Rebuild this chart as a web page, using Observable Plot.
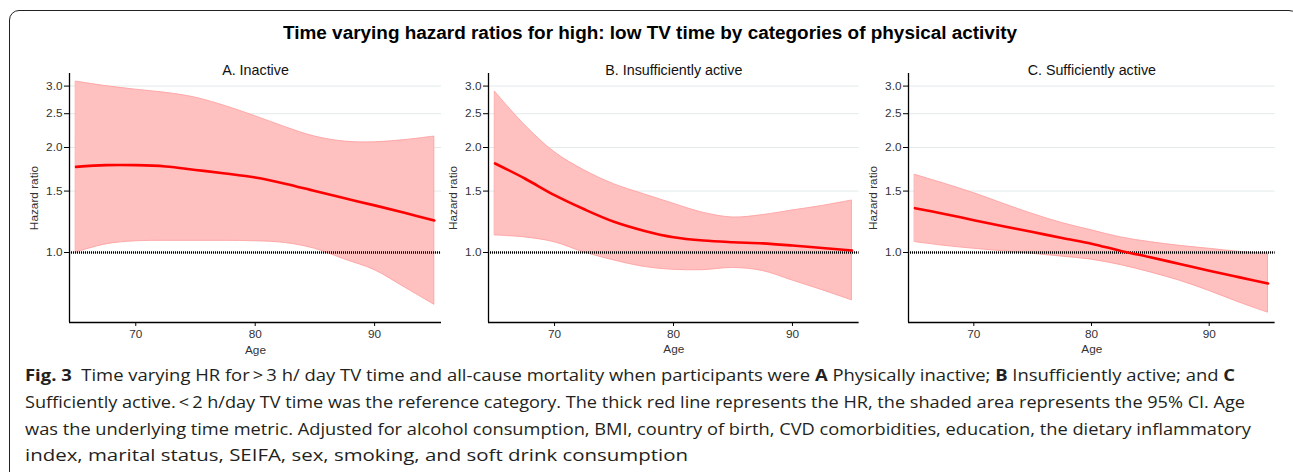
<!DOCTYPE html>
<html>
<head>
<meta charset="utf-8">
<script src="https://cdn.jsdelivr.net/npm/d3@7"></script>
<script src="https://cdn.jsdelivr.net/npm/@observablehq/plot@0.6"></script>
<style>
  html, body { margin: 0; padding: 0; background: #fff; }
  body { width: 1293px; height: 472px; position: relative; overflow: hidden; }
  #frame { position: absolute; left: 9px; top: 10px; width: 1290px; height: 520px; box-sizing: border-box;
           border: 1.5px solid #222; border-radius: 10px; }
  #title { position: absolute; top: 23px; white-space: nowrap; width: max-content;
           font: bold 17.5px "Liberation Sans", Arial, sans-serif; color: #000; transform-origin: 0 50%; }
  .panel { position: absolute; top: 50px; }
  #caption { position: absolute; left: 25px; top: 362px; font-family: "Open Sans", sans-serif;
             font-size: 16px; line-height: 26.8px; color: #231f20; }
  #caption .ln { white-space: nowrap; display: block; transform-origin: 0 50%; width: max-content; }
</style>
</head>
<body>
<div id="frame"></div>
<div id="title"></div>
<div id="pA" class="panel"></div>
<div id="pB" class="panel"></div>
<div id="pC" class="panel"></div>
<div id="caption"></div>
<script>
// ---------- data ----------
const chartTitle = "Time varying hazard ratios for high: low TV time by categories of physical activity";
const panelTitles = ["A. Inactive", "B. Insufficiently active", "C. Sufficiently active"];
const ages = [65, 67.5, 70, 72.5, 75, 77.5, 80, 82.5, 85, 87.5, 90, 92.5, 95];

const inactiveHi = [3.09, 3.00, 2.93, 2.87, 2.78, 2.63, 2.46, 2.29, 2.15, 2.08, 2.07, 2.10, 2.15];
const inactiveHR = [1.76, 1.78, 1.78, 1.765, 1.725, 1.685, 1.64, 1.575, 1.50, 1.43, 1.365, 1.30, 1.235];
const inactiveLo = [1.00, 1.055, 1.077, 1.08, 1.08, 1.08, 1.077, 1.065, 1.025, 0.955, 0.89, 0.795, 0.708];

const insuffHi = [2.89, 2.32, 1.94, 1.72, 1.57, 1.47, 1.38, 1.30, 1.26, 1.28, 1.32, 1.36, 1.41];
const insuffHR = [1.80, 1.63, 1.46, 1.33, 1.225, 1.155, 1.106, 1.082, 1.07, 1.062, 1.047, 1.03, 1.013];
const insuffLo = [1.119, 1.105, 1.07, 1.00, 0.949, 0.91, 0.892, 0.89, 0.903, 0.885, 0.831, 0.78, 0.729];

const suffHi = [1.67, 1.575, 1.48, 1.38, 1.29, 1.215, 1.158, 1.105, 1.071, 1.045, 1.025, 1.005, 0.991];
const suffHR = [1.34, 1.29, 1.238, 1.19, 1.145, 1.10, 1.06, 1.01, 0.969, 0.927, 0.887, 0.85, 0.815];
const suffLo = [1.071, 1.045, 1.025, 1.008, 0.991, 0.973, 0.954, 0.92, 0.877, 0.83, 0.776, 0.72, 0.672];

const yTicks = [1.0, 1.5, 2.0, 2.5, 3.0];
const xTicks = [70, 80, 90];
const refValue = [1];
const xDomain = [64.45, 95.6];
const yDomain = [0.63, 3.26];

const captionLines = [
  "<b>Fig.&nbsp;3</b>&nbsp;&nbsp;Time varying HR for&thinsp;&gt;&thinsp;3 h/ day TV time and all-cause mortality when participants were <b>A</b> Physically inactive; <b>B</b> Insufficiently active; and <b>C</b>",
  "Sufficiently active.&thinsp;&lt;&thinsp;2 h/day TV time was the reference category. The thick red line represents the HR, the shaded area represents the 95% CI. Age",
  "was the underlying time metric. Adjusted for alcohol consumption, BMI, country of birth, CVD comorbidities, education, the dietary inflammatory",
  "index, marital status, SEIFA, sex, smoking, and soft drink consumption"
];
const captionWidths = [1210, 1220, 1226, 663];

// ---------- drawing ----------
const titleEl = document.getElementById("title");
titleEl.textContent = chartTitle;
{
  const w = titleEl.getBoundingClientRect().width;
  const target = 734;
  titleEl.style.left = (650 - target / 2) + "px";
  titleEl.style.transform = `scaleX(${target / w})`;
}

function panel(title, hi, hr, lo, width) {
  const data = ages.map((a, i) => ({age: a, hi: hi[i], hr: hr[i], lo: lo[i]}));
  return Plot.plot({
    width: width,
    height: 306,
    marginLeft: 59,
    marginRight: 0,
    marginTop: 23,
    marginBottom: 34,
    style: {fontFamily: "'Liberation Sans', Arial, sans-serif", fontSize: "11.5px", color: "#222", background: "transparent", overflow: "visible"},
    x: {domain: xDomain},
    y: {type: "log", domain: yDomain},
    marks: [
      Plot.gridY(yTicks, {stroke: "#e2eaea", strokeOpacity: 1, strokeWidth: 1}),
      Plot.areaY(data, {x: "age", y1: "lo", y2: "hi", fill: "#ffc0c0", fillOpacity: 1, stroke: "#ff9a9a", strokeWidth: 0.8, curve: "catmull-rom"}),
      Plot.ruleY(refValue, {stroke: "#000", strokeWidth: 2.6, strokeDasharray: "1,1"}),
      Plot.lineY(data, {x: "age", y: "hr", stroke: "#ff0000", strokeWidth: 2.6, curve: "catmull-rom"}),
      Plot.ruleX([xDomain[0]], {stroke: "#000", strokeWidth: 1.3}),
      Plot.ruleY([yDomain[0]], {stroke: "#000", strokeWidth: 1.3}),
      Plot.axisY(yTicks, {tickFormat: d3.format(".1f"), tickSize: 5, tickPadding: 2, stroke: "#000", fill: "#333", fontSize: 11.8,
        label: "Hazard ratio", labelAnchor: "center", labelOffset: 40, labelArrow: "none"}),
      Plot.axisX(xTicks, {tickSize: 4, tickPadding: 3, stroke: "#000", fill: "#333", fontSize: 11.8,
        label: "Age", labelAnchor: "center", labelOffset: 31, labelArrow: "none"}),
      Plot.text([title], {frameAnchor: "top", dy: -8.5, fontSize: 14.3, fill: "#111"})
    ]
  });
}

const geoms = [
  {id: "pA", left: 10, width: 431, hi: inactiveHi, hr: inactiveHR, lo: inactiveLo},
  {id: "pB", left: 428.7, width: 429.6, hi: insuffHi, hr: insuffHR, lo: insuffLo},
  {id: "pC", left: 848.7, width: 425.6, hi: suffHi, hr: suffHR, lo: suffLo}
];
geoms.forEach((g, i) => {
  const el = document.getElementById(g.id);
  el.style.left = g.left + "px";
  el.appendChild(panel(panelTitles[i], g.hi, g.hr, g.lo, g.width));
});

const cap = document.getElementById("caption");
captionLines.forEach((html, i) => {
  const d = document.createElement("div");
  d.className = "ln";
  d.innerHTML = html;
  cap.appendChild(d);
  const w = d.getBoundingClientRect().width;
  d.style.transform = `scaleX(${captionWidths[i] / w})`;
});
</script>
</body>
</html>
